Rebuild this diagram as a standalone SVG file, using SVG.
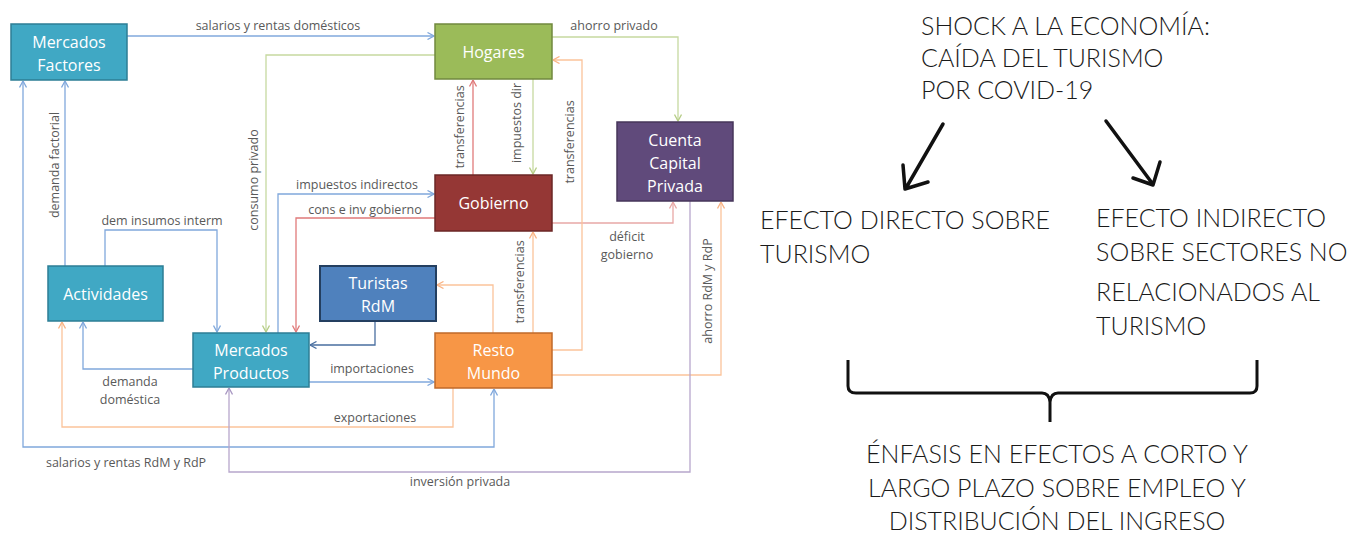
<svg xmlns="http://www.w3.org/2000/svg" width="1350" height="537" viewBox="0 0 1350 537">
<defs>
<style>
.nd{stroke-width:1.5}
.nt{font-family:"Open Sans","Liberation Sans",sans-serif;font-size:16px;fill:#fff;text-anchor:middle}
.lb{font-family:"Open Sans","Liberation Sans",sans-serif;font-size:12.5px;fill:#595959;text-anchor:middle}
.rt{font-family:Lato,"Open Sans","Liberation Sans",sans-serif;font-weight:300;font-size:25px;fill:#1a1a1a}
.c{fill:none;stroke-width:1.3}
.bl{stroke:#80a8dc}.gr{stroke:#c6d9a0}.rd{stroke:#e07a7a}.pk{stroke:#e8a8a6}.or{stroke:#fbc39a}.pu{stroke:#b7a7cc}.nv{stroke:#4a6fa0}
.hd{fill:none;stroke:#111;stroke-width:3.5;stroke-linecap:round;stroke-linejoin:round}
</style>
<marker id="ab" viewBox="0 0 8 8" refX="7.5" refY="4" markerWidth="8" markerHeight="8" markerUnits="userSpaceOnUse" orient="auto-start-reverse"><path d="M1,0.5 L7.5,4 L1,7.5" fill="none" stroke="#80a8dc" stroke-width="1.3"/></marker>
<marker id="ag" viewBox="0 0 8 8" refX="7.5" refY="4" markerWidth="8" markerHeight="8" markerUnits="userSpaceOnUse" orient="auto"><path d="M1,0.5 L7.5,4 L1,7.5" fill="none" stroke="#b5cc85" stroke-width="1.3"/></marker>
<marker id="ar" viewBox="0 0 8 8" refX="7.5" refY="4" markerWidth="8" markerHeight="8" markerUnits="userSpaceOnUse" orient="auto"><path d="M1,0.5 L7.5,4 L1,7.5" fill="none" stroke="#e07a7a" stroke-width="1.3"/></marker>
<marker id="ap" viewBox="0 0 8 8" refX="7.5" refY="4" markerWidth="8" markerHeight="8" markerUnits="userSpaceOnUse" orient="auto"><path d="M1,0.5 L7.5,4 L1,7.5" fill="none" stroke="#e8a8a6" stroke-width="1.3"/></marker>
<marker id="ao" viewBox="0 0 8 8" refX="7.5" refY="4" markerWidth="8" markerHeight="8" markerUnits="userSpaceOnUse" orient="auto"><path d="M1,0.5 L7.5,4 L1,7.5" fill="none" stroke="#f9b384" stroke-width="1.3"/></marker>
<marker id="au" viewBox="0 0 8 8" refX="7.5" refY="4" markerWidth="8" markerHeight="8" markerUnits="userSpaceOnUse" orient="auto"><path d="M1,0.5 L7.5,4 L1,7.5" fill="none" stroke="#a897c2" stroke-width="1.3"/></marker>
<marker id="an" viewBox="0 0 8 8" refX="7.5" refY="4" markerWidth="8" markerHeight="8" markerUnits="userSpaceOnUse" orient="auto"><path d="M1,0.5 L7.5,4 L1,7.5" fill="none" stroke="#4a6fa0" stroke-width="1.3"/></marker>
</defs>
<rect width="1350" height="537" fill="#fff"/>

<g id="connectors">
<path class="c bl" d="M127,36 H434" marker-end="url(#ab)"/>
<path class="c gr" d="M435,55 H266 V332" marker-end="url(#ag)"/>
<path class="c bl" d="M278,333 V194 H434" marker-end="url(#ab)"/>
<path class="c rd" d="M435,218 H296 V332" marker-end="url(#ar)"/>
<path class="c pk" d="M552,223 H673 V202" marker-end="url(#ap)"/>
<path class="c rd" d="M473,175 V80" marker-end="url(#ar)"/>
<path class="c gr" d="M533,79 V174" marker-end="url(#ag)"/>
<path class="c or" d="M552,350 H582 V60 H553" marker-end="url(#ao)"/>
<path class="c or" d="M533,333 V232" marker-end="url(#ao)"/>
<path class="c or" d="M493,333 V285 H437" marker-end="url(#ao)"/>
<path class="c nv" d="M375,321 V345 H310" marker-end="url(#an)"/>
<path class="c bl" d="M309,382 H434" marker-end="url(#ab)"/>
<path class="c or" d="M453,388 V427 H62 V322" marker-end="url(#ao)"/>
<path class="c bl" d="M193,369 H83 V322" marker-end="url(#ab)"/>
<path class="c bl" d="M494,389 V447 H23 V81" marker-start="url(#ab)" marker-end="url(#ab)"/>
<path class="c bl" d="M65,266 V81" marker-end="url(#ab)"/>
<path class="c bl" d="M105,266 V230 H217 V332" marker-end="url(#ab)"/>
<path class="c gr" d="M552,37 H678 V121" marker-end="url(#ag)"/>
<path class="c or" d="M552,375 H721 V202" marker-end="url(#ao)"/>
<path class="c pu" d="M690,201 V472 H229 V388" marker-end="url(#au)"/>

<text class="lb" x="278" y="30">salarios y rentas domésticos</text>
<text class="lb" x="614" y="30">ahorro privado</text>
<text class="lb" transform="translate(258,180) rotate(-90)">consumo privado</text>
<text class="lb" x="357" y="189">impuestos indirectos</text>
<text class="lb" x="365" y="214">cons e inv gobierno</text>
<text class="lb" x="162" y="225">dem insumos interm</text>
<text class="lb" transform="translate(59,165) rotate(-90)">demanda factorial</text>
<text class="lb" transform="translate(464,127) rotate(-90)">transferencias</text>
<text class="lb" transform="translate(521,123) rotate(-90)">impuestos dir</text>
<text class="lb" transform="translate(574,142) rotate(-90)">transferencias</text>
<text class="lb" x="627" y="241">déficit</text>
<text class="lb" x="627" y="259">gobierno</text>
<text class="lb" transform="translate(524,282) rotate(-90)">transferencias</text>
<text class="lb" transform="translate(712,291) rotate(-90)">ahorro RdM y RdP</text>
<text class="lb" x="372" y="373">importaciones</text>
<text class="lb" x="375" y="422">exportaciones</text>
<text class="lb" x="130" y="386">demanda</text>
<text class="lb" x="130" y="404">doméstica</text>
<text class="lb" x="126" y="467">salarios y rentas RdM y RdP</text>
<text class="lb" x="460" y="486">inversión privada</text>
</g>

<g id="mercados-factores">
<rect class="nd" x="11" y="24" width="116" height="56" fill="#40a8c4" stroke="#2c7e95"/>
<text class="nt" x="69" y="47.5">Mercados</text>
<text class="nt" x="69" y="70.5">Factores</text>
</g>
<g id="hogares">
<rect class="nd" x="435" y="24" width="117" height="55" fill="#9bbb59" stroke="#71893f"/>
<text class="nt" x="493.5" y="58">Hogares</text>
</g>
<g id="cuenta-capital">
<rect class="nd" x="617" y="122" width="116" height="79" fill="#604a7b" stroke="#46365a"/>
<text class="nt" x="675" y="145.5">Cuenta</text>
<text class="nt" x="675" y="168.5">Capital</text>
<text class="nt" x="675" y="191.5">Privada</text>
</g>
<g id="gobierno">
<rect class="nd" x="435" y="175" width="117" height="56" fill="#953735" stroke="#6b2726"/>
<text class="nt" x="493.5" y="208.5">Gobierno</text>
</g>
<g id="turistas">
<rect x="320" y="266" width="116" height="55" fill="#4f81bd" stroke="#243f60" stroke-width="2"/>
<text class="nt" x="378" y="288.5">Turistas</text>
<text class="nt" x="378" y="311.5">RdM</text>
</g>
<g id="actividades">
<rect class="nd" x="48" y="266" width="115" height="55" fill="#40a8c4" stroke="#2c7e95"/>
<text class="nt" x="105.5" y="299.5">Actividades</text>
</g>
<g id="mercados-productos">
<rect class="nd" x="193" y="333" width="116" height="54" fill="#40a8c4" stroke="#2c7e95"/>
<text class="nt" x="251" y="355.5">Mercados</text>
<text class="nt" x="251" y="378.5">Productos</text>
</g>
<g id="resto-mundo">
<rect class="nd" x="435" y="333" width="117" height="55" fill="#f79646" stroke="#c0692a"/>
<text class="nt" x="493.5" y="355.5">Resto</text>
<text class="nt" x="493.5" y="378.5">Mundo</text>
</g>

<g id="shock">
<text class="rt" x="921" y="35">SHOCK A LA ECONOMÍA:</text>
<text class="rt" x="921" y="67">CAÍDA DEL TURISMO</text>
<text class="rt" x="921" y="99">POR COVID-19</text>
</g>
<g id="arrows-hand">
<path class="hd" d="M943,124 L906,188 M903,165 L905,189 L928,182"/>
<path class="hd" d="M1106,121 L1152,183 M1133,178 L1153,185 L1160,162"/>
</g>
<g id="efecto-directo">
<text class="rt" x="760" y="229">EFECTO DIRECTO SOBRE</text>
<text class="rt" x="760" y="263">TURISMO</text>
</g>
<g id="efecto-indirecto">
<text class="rt" x="1096" y="227">EFECTO INDIRECTO</text>
<text class="rt" x="1096" y="261">SOBRE SECTORES NO</text>
<text class="rt" x="1096" y="301">RELACIONADOS AL</text>
<text class="rt" x="1096" y="335">TURISMO</text>
</g>
<g id="brace">
<path d="M848,360 V386 Q848,393 856,393 H1042 Q1049,393 1050,402 V422 M1050,402 Q1051,393 1058,393 H1250 Q1257,393 1257,386 V360" fill="none" stroke="#111" stroke-width="3"/>
</g>
<g id="enfasis">
<text class="rt" x="1057" y="463" text-anchor="middle">ÉNFASIS EN EFECTOS A CORTO Y</text>
<text class="rt" x="1057" y="497" text-anchor="middle">LARGO PLAZO SOBRE EMPLEO Y</text>
<text class="rt" x="1057" y="530" text-anchor="middle">DISTRIBUCIÓN DEL INGRESO</text>
</g>
</svg>
